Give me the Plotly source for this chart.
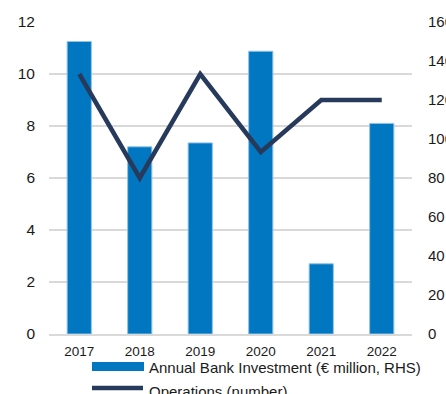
import plotly.graph_objects as go

years = ["2017", "2018", "2019", "2020", "2021", "2022"]
investment = [150, 96, 98, 145, 36, 108]   # € million, RHS
operations = [10, 6, 10, 7, 9, 9]          # number, LHS

W, H = 446, 394
# plot area in pixels
L, R, T, B = 49, 412, 22, 334

def px(x):
    return (x - L) / (R - L)

def py(y):
    return (B - y) / (B - T)

BAR = "#0077C0"
LINE = "#273A5C"
GRID = "#D9D9D9"
TXT = "#1a1a1a"
FONT = "Liberation Sans, Arial, sans-serif"

fig = go.Figure()
fig.add_trace(go.Bar(
    x=years, y=investment, yaxis="y", name="Annual Bank Investment (€ million, RHS)",
    marker=dict(color=BAR, line=dict(color="#8FC3E8", width=1)),
    showlegend=False,
))
fig.add_trace(go.Scatter(
    x=years, y=operations, yaxis="y2", mode="lines", name="Operations (number)",
    line=dict(color=LINE, width=4.5),
    showlegend=False,
))

shapes = [
    dict(type="rect", xref="paper", yref="paper",
         x0=px(92), x1=px(144), y0=py(371), y1=py(362),
         fillcolor=BAR, line=dict(width=0)),
    dict(type="line", xref="paper", yref="paper",
         x0=px(92), x1=px(143), y0=py(388), y1=py(388),
         line=dict(color=LINE, width=4.5)),
]
annotations = [
    dict(xref="paper", yref="paper", x=px(147), y=py(367), xanchor="left", yanchor="middle",
         text="Annual Bank Investment (€ million, RHS)", showarrow=False,
         font=dict(family=FONT, size=15, color=TXT)),
    dict(xref="paper", yref="paper", x=px(147), y=py(391), xanchor="left", yanchor="middle",
         text="Operations (number)", showarrow=False,
         font=dict(family=FONT, size=15, color=TXT)),
]

fig.update_layout(
    width=W, height=H,
    margin=dict(l=L, r=W - R, t=T, b=H - B, autoexpand=False),
    paper_bgcolor="white", plot_bgcolor="white",
    font=dict(family=FONT, size=13, color=TXT),
    bargap=0.6,
    xaxis=dict(showgrid=False, showline=True, linecolor=GRID, linewidth=1.5,
               ticks="", tickfont=dict(size=13.5), ticklabelstandoff=4),
    yaxis=dict(range=[0, 160], dtick=20, side="right",
               showgrid=False, zeroline=False, showline=False, ticks="",
               tickfont=dict(size=15), ticklabelstandoff=15),
    yaxis2=dict(range=[0, 12], dtick=2, overlaying="y", side="left",
                showgrid=True, gridcolor=GRID, gridwidth=1.5,
                zeroline=False, showline=False, ticks="", tickfont=dict(size=15.5),
                ticklabelstandoff=13),
    shapes=shapes, annotations=annotations,
)

fig.write_html(
    "out.html",
    config={"displayModeBar": False},
    post_script="document.body.style.margin='0';document.body.style.overflow='hidden';",
)
